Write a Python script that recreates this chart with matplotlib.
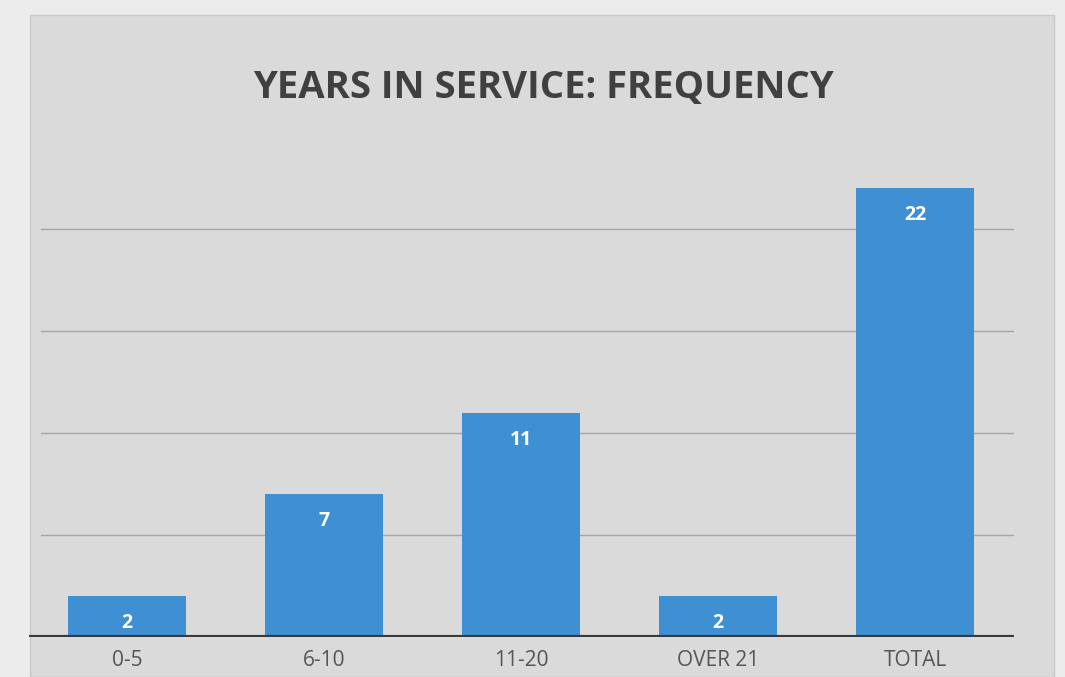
import matplotlib.pyplot as plt
from matplotlib.patches import Rectangle

categories = ["0-5", "6-10", "11-20", "OVER 21", "TOTAL"]
frequency = [2, 7, 11, 2, 22]
gridline_values = [5, 10, 15, 20]

fig = plt.figure(figsize=(10.65, 6.77), dpi=100)
fig.patch.set_facecolor("#ececec")

# grey chart panel, kept behind the axes
fig.patches.append(Rectangle((0.028, 0.0), 0.962, 0.978, transform=fig.transFigure,
                             facecolor="#dadada", edgecolor="#c8c8c8", linewidth=1, zorder=-10))

ax = fig.add_axes([0.027, 0.059, 0.925, 0.753])
ax.set_facecolor("none")

x = range(len(categories))
bars = ax.bar(x, frequency, width=0.6, color="#3e90d2", zorder=3)

for v in gridline_values:
    ax.axhline(v, xmin=0.012, color="#a5a5a5", linewidth=1, zorder=1)
ax.axhline(0, color="#3a3a3a", linewidth=3, zorder=4)

# value labels inside the top of each bar
for b, v in zip(bars, frequency):
    ax.annotate(str(v), (b.get_x() + b.get_width() / 2, v), xytext=(0, -27),
                textcoords="offset pixels", ha="center", va="center",
                color="white", fontsize=14, fontweight="bold", family="Open Sans", zorder=5)

ax.set_xlim(-0.5, 4.5)
ax.set_ylim(0, 25)
ax.set_xticks(list(x))
ax.set_xticklabels(categories, fontsize=15, color="#555555", family="Open Sans")
ax.tick_params(axis="x", length=0, pad=9)
ax.set_yticks([])
for s in ax.spines.values():
    s.set_visible(False)

fig.text(0.51, 0.87, "YEARS IN SERVICE: FREQUENCY", ha="center", va="center",
         fontsize=27.5, fontweight="bold", color="#404040", family="Open Sans")

fig.savefig("out.png", dpi=100, facecolor=fig.get_facecolor())
